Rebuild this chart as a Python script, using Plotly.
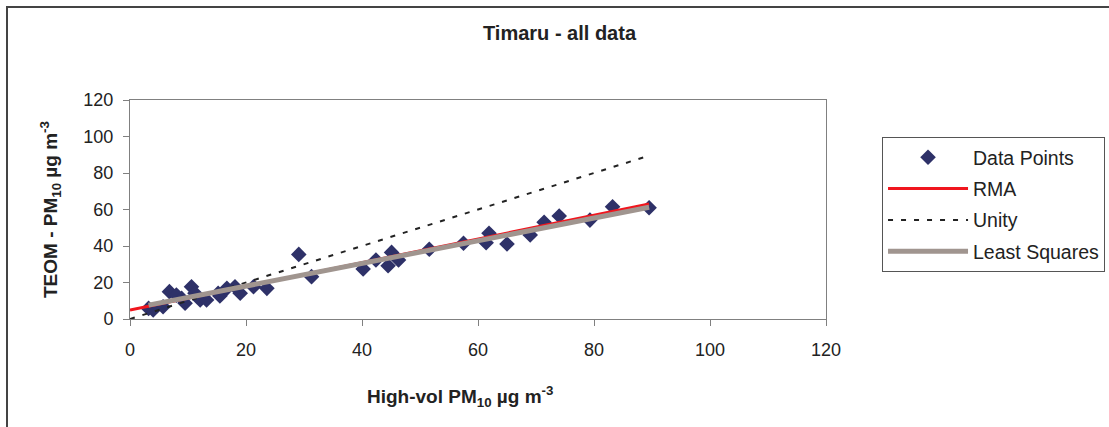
import plotly.graph_objects as go

# Data points (High-vol PM10, TEOM PM10)
hv = [3.2, 4.0, 5.7, 6.8, 8.0, 8.9, 9.5, 10.6, 11.2, 12.1, 13.2, 15.2, 15.5,
      16.7, 18.1, 19.0, 21.3, 23.6, 29.1, 31.3, 40.2, 42.4, 44.5, 45.1, 46.3,
      51.6, 57.5, 61.4, 61.9, 65.0, 69.0, 71.4, 74.0, 79.3, 83.2, 89.5]
teom = [5.8, 4.9, 6.7, 15.0, 13.1, 11.3, 8.6, 17.7, 14.1, 10.4, 10.4, 14.1, 12.6,
        16.8, 17.7, 14.1, 17.7, 16.8, 35.4, 23.2, 27.4, 32.3, 29.2, 36.5, 32.3,
        38.2, 41.5, 41.8, 47.0, 41.1, 46.0, 53.0, 56.4, 54.2, 61.5, 61.0]

rma_x = [0, 89.5]
rma_y = [4.9, 63.0]
unity_x = [0, 89.5]
unity_y = [0, 89.5]
ls_x = [3.2, 89.5]
ls_y = [7.6, 61.2]

x_ticks = [0, 20, 40, 60, 80, 100, 120]
y_ticks = [0, 20, 40, 60, 80, 100, 120]

FONT = "Liberation Sans, Arial, sans-serif"

fig = go.Figure()
fig.add_trace(go.Scatter(x=hv, y=teom, mode="markers", name="Data Points",
                         marker=dict(symbol="diamond", size=12, color="#2E3168"),
                         legendgroup="a"))
fig.add_trace(go.Scatter(x=rma_x, y=rma_y, mode="lines", name="RMA",
                         line=dict(color="#F0161E", width=3), legendgroup="b"))
fig.add_trace(go.Scatter(x=unity_x, y=unity_y, mode="lines", name="Unity",
                         line=dict(color="#222222", width=2, dash="5px,8px"),
                         legendgroup="c"))
fig.add_trace(go.Scatter(x=ls_x, y=ls_y, mode="lines", name="Least Squares",
                         line=dict(color="#A0958F", width=5), legendgroup="d"))

axis_common = dict(showgrid=False, zeroline=False, showline=True,
                   linecolor="#808080", linewidth=1, mirror=True,
                   ticks="outside", ticklen=6, tickcolor="#808080",
                   tickfont=dict(family=FONT, size=18, color="#222222"))

fig.update_xaxes(range=[0, 120], tickvals=x_ticks, ticklabelstandoff=8, **axis_common)
fig.update_yaxes(range=[0, 120], tickvals=y_ticks, ticklabelstandoff=6, **axis_common)

fig.update_layout(
    width=1109, height=427,
    margin=dict(l=130, r=283, t=100, b=108, autoexpand=False),
    paper_bgcolor="white", plot_bgcolor="white",
    font=dict(family=FONT, color="#222222"),
    showlegend=True,
    legend=dict(x=1.0805, y=0.831, xanchor="left", yanchor="top",
                bordercolor="#555555", borderwidth=1, bgcolor="white",
                font=dict(family=FONT, size=19.5, color="#222222"),
                tracegroupgap=3, itemwidth=80),
    annotations=[
        dict(text="<b>Timaru - all data</b>", xref="paper", yref="paper",
             x=0.618, y=(319 - 33) / 219, xanchor="center", yanchor="middle",
             showarrow=False, font=dict(family=FONT, size=20, color="#222222")),
        dict(text="<b>High-vol PM<sub>10</sub> µg m<sup>-3</sup></b>", xref="paper", yref="paper",
             x=0.474, y=(319 - 396) / 219, xanchor="center", yanchor="middle",
             showarrow=False, font=dict(family=FONT, size=19, color="#222222")),
        dict(text="<b>TEOM - PM<sub>10</sub> µg m<sup>-3</sup></b>", xref="paper", yref="paper",
             x=(50 - 130) / 696, y=(319 - 210) / 219, xanchor="center", yanchor="middle",
             textangle=-90,
             showarrow=False, font=dict(family=FONT, size=19, color="#222222")),
    ],
    shapes=[
        dict(type="rect", xref="paper", yref="paper",
             x0=(7 - 130) / 696, x1=(1120 - 130) / 696,
             y0=(319 - 440) / 219, y1=(319 - 7) / 219,
             line=dict(color="#444444", width=2), layer="below"),
    ],
)

fig.write_html("out.html")
